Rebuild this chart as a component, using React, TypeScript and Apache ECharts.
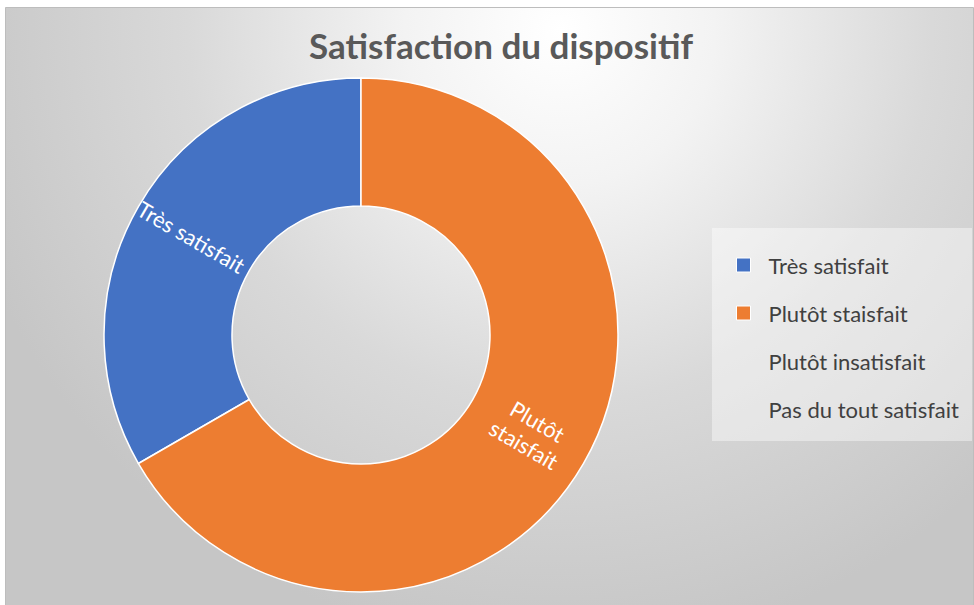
import React, { useEffect, useRef } from "react";
import * as echarts from "echarts";

const titleText = "Satisfaction du dispositif";
const categories = ["Très satisfait", "Plutôt staisfait", "Plutôt insatisfait", "Pas du tout satisfait"];
const values = [1, 2, 0, 0];
const sliceLabels = ["Très satisfait", "Plutôt\nstaisfait", "", ""];
const colors = ["#4472C4", "#ED7D31", "#A5A5A5", "#FFC000"];

export default function App() {
  const ref = useRef<HTMLDivElement>(null);
  useEffect(() => {
    if (!ref.current) return;
    const chart = echarts.init(ref.current, null, { renderer: "svg" });
    const font = "Lato, 'Open Sans', sans-serif";
    const data = categories.map((name, i) => {
      const visible = values[i] > 0;
      return {
        name,
        value: values[i],
        itemStyle: {
          color: colors[i],
          borderColor: "#ffffff",
          borderWidth: visible ? 1.5 : 0,
          opacity: visible ? 1 : 0,
        },
        label: { show: visible, formatter: sliceLabels[i] },
      };
    });
    const legendData = categories.map((name, i) => ({
      name,
      itemStyle: values[i] > 0 ? { borderColor: "#ffffff", borderWidth: 1 } : { opacity: 0 },
    }));
    chart.setOption({
      animation: false,
      graphic: [
        {
          type: "rect",
          z: -10,
          shape: { x: 5.5, y: 7.5, width: 968, height: 598 },
          style: {
            fill: {
              type: "radial",
              x: 560,
              y: 30,
              r: 620,
              global: true,
              colorStops: [
                { offset: 0, color: "#ffffff" },
                { offset: 0.25, color: "#f3f3f3" },
                { offset: 0.6, color: "#d9d9d9" },
                { offset: 1, color: "#c6c6c6" },
              ],
            },
            stroke: "#bdbdbd",
            lineWidth: 1,
          },
        },
        {
          type: "rect",
          z: -5,
          shape: { x: 712, y: 228, width: 260, height: 213 },
          style: { fill: "rgba(255,255,255,0.42)" },
        },
      ],
      title: {
        text: titleText,
        left: 496,
        textAlign: "center",
        top: 22,
        textStyle: { fontFamily: font, fontWeight: "bold", fontSize: 35, color: "#595959" },
      },
      legend: {
        orient: "vertical",
        left: 736,
        top: 254,
        padding: 0,
        itemWidth: 14,
        itemHeight: 14,
        itemGap: 26,
        icon: "rect",
        data: legendData,
        textStyle: { fontFamily: font, fontSize: 22, color: "#404040", padding: [0, 0, 0, 13] },
      },
      series: [
        {
          type: "pie",
          center: [361, 335],
          radius: [129, 257],
          startAngle: 90,
          clockwise: false,
          avoidLabelOverlap: false,
          label: {
            show: true,
            position: "inside",
            rotate: "radial",
            color: "#ffffff",
            fontFamily: font,
            fontSize: 22,
            lineHeight: 27,
          },
          labelLine: { show: false },
          emphasis: { disabled: true },
          data,
        },
      ],
    });
    return () => chart.dispose();
  }, []);
  return <div ref={ref} style={{ position: "absolute", left: 0, top: 0, width: 974, height: 605 }} />;
}
